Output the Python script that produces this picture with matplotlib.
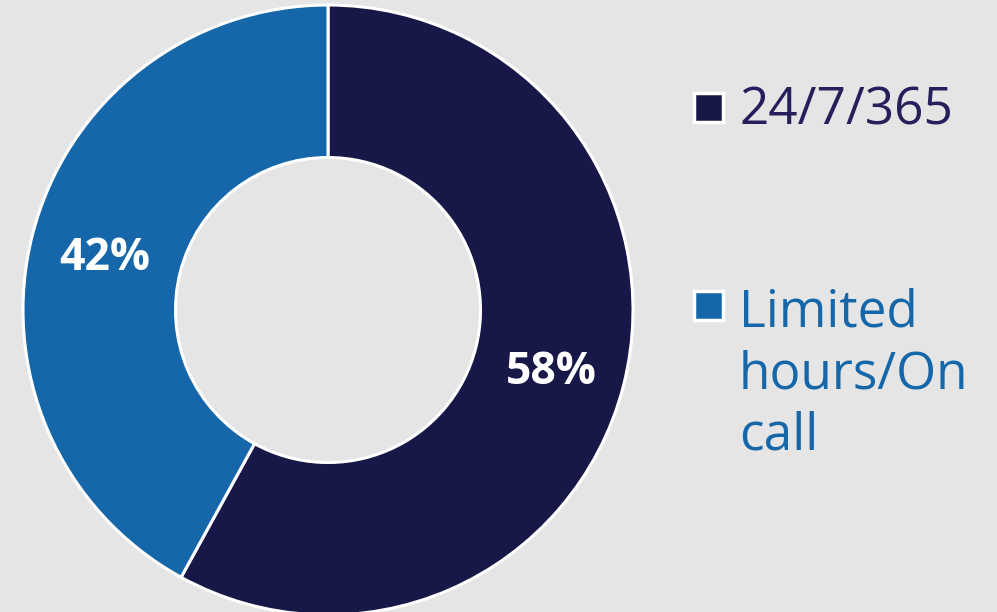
import matplotlib
matplotlib.use("Agg")
import matplotlib.pyplot as plt
from matplotlib.patches import Rectangle

categories = ["24/7/365", "Limited\nhours/On\ncall"]
values = [58, 42]
pct_labels = ["58%", "42%"]

colors = ["#171847", "#1667aa"]
text_colors = ["#251f5c", "#1667aa"]
bg = "#e5e5e5"

W, H = 997, 612
fig = plt.figure(figsize=(W / 100, H / 100), dpi=100, facecolor=bg)
ax = fig.add_axes([23 / W, (612 - 310 - 305) / H, 610 / W, 610 / H])
ax.set_facecolor(bg)

wedges, texts, autotexts = ax.pie(
    values, colors=colors, startangle=90, counterclock=False, radius=1,
    wedgeprops=dict(width=0.5, edgecolor="white", linewidth=2.2),
    autopct="%1.0f%%", pctdistance=0.755,
    textprops=dict(color="white", fontsize=32, fontweight="bold", family="Open Sans"),
)
for t, lab in zip(autotexts, pct_labels):
    t.set_text(lab)
    t.set_va("center_baseline")
ax.set_xlim(-1, 1)
ax.set_ylim(-1, 1)
ax.set_aspect("equal")
ax.axis("off")

# Legend
sq_x, sq_w = 694, 29
sq_tops = [93, 291]
last_baselines = [125, 450]
for i, cat in enumerate(categories):
    fig.add_artist(Rectangle((sq_x / W, 1 - (sq_tops[i] + sq_w) / H), sq_w / W, sq_w / H,
                             transform=fig.transFigure, facecolor=colors[i],
                             edgecolor="white", linewidth=2.5))
    fig.text(739 / W, 1 - last_baselines[i] / H, cat, color=text_colors[i], fontsize=37,
             family="Open Sans", va="baseline", ha="left", linespacing=1.27,
             multialignment="left")

fig.savefig("out.png", dpi=100, facecolor=bg)
